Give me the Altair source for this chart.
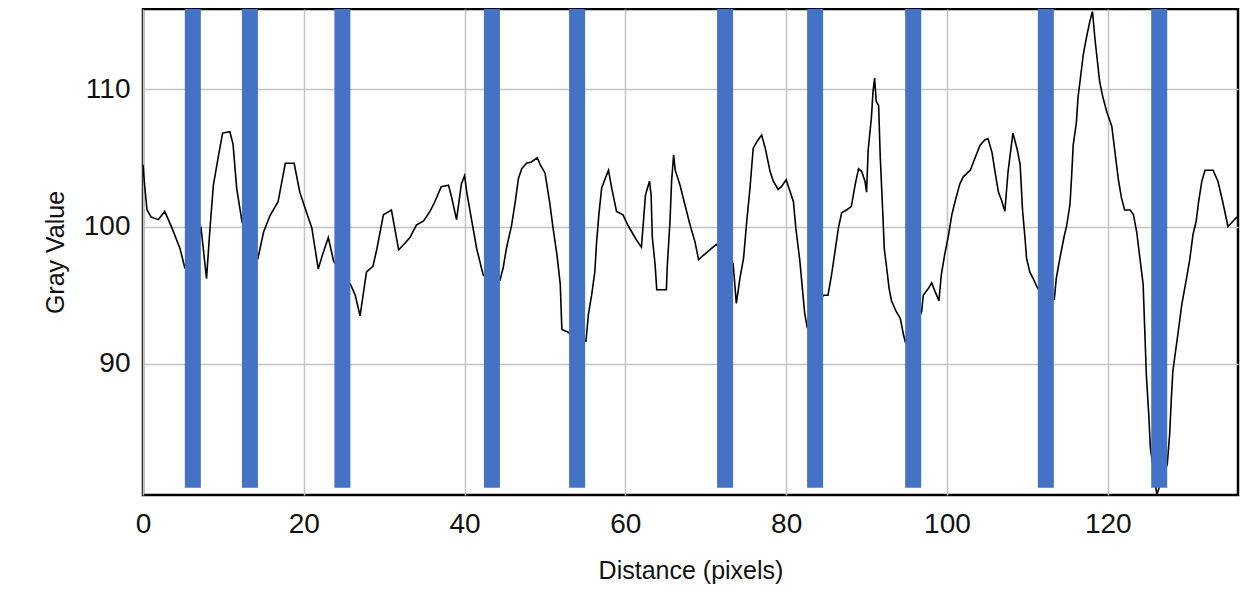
import altair as alt
import pandas as pd

# Profile line (distance in pixels, gray value)
dist = [0.0, 0.2, 0.5, 1.0, 1.9, 2.7, 3.6, 4.6, 5.2, 6.2, 7.2, 7.9, 8.3, 8.75, 9.4, 9.9,
        10.8, 11.2, 11.65, 12.3, 13.3, 14.3, 15.0, 15.8, 16.8, 17.7, 18.8, 19.5, 20.3, 21.0,
        21.8, 22.3, 23.05, 23.7, 24.8, 25.8, 26.4, 27.0, 27.8, 28.6, 29.1, 29.9, 30.9, 31.8,
        32.6, 33.2, 34.0, 34.9, 35.7, 36.3, 37.1, 38.0, 38.4, 39.0, 39.6, 40.0, 40.3, 40.9,
        41.5, 42.3, 43.4, 44.4, 44.8, 45.2, 45.85, 46.3, 46.7, 47.1, 47.7, 48.3, 49.05, 49.4,
        50.0, 50.6, 51.0, 51.5, 51.9, 52.1, 52.9, 54.0, 55.1, 55.4, 55.8, 56.2, 56.4, 56.7,
        57.05, 57.9, 58.3, 58.9, 59.7, 60.4, 61.4, 62.0, 62.5, 63.0, 63.2, 63.35, 63.7, 63.9,
        65.1, 65.2, 65.55, 65.75, 66.0, 66.2, 66.8, 67.4, 68.05, 68.65, 69.1, 69.7, 70.5,
        71.3, 72.4, 73.4, 73.8, 74.25, 74.7, 75.1, 75.5, 75.9, 76.5, 76.95, 77.4, 78.0, 78.4,
        79.0, 79.4, 80.0, 80.4, 80.9, 81.2, 81.7, 82.05, 82.3, 82.6, 83.6, 84.6, 85.2, 85.65,
        86.1, 86.5, 86.9, 87.5, 88.1, 88.6, 89.0, 89.4, 89.8, 90.0, 90.2, 90.6, 90.8, 91.0,
        91.2, 91.5, 91.7, 92.0, 92.2, 92.5, 92.8, 93.1, 93.7, 94.2, 94.6, 94.8, 95.8, 96.85,
        97.05, 97.7, 98.1, 98.5, 99.0, 99.3, 99.7, 100.2, 100.6, 101.0, 101.6, 102.0, 102.9,
        103.5, 104.1, 104.7, 105.1, 105.6, 106.0, 106.4, 106.8, 107.2, 107.6, 108.2, 108.7,
        109.1, 109.4, 109.7, 109.9, 110.3, 110.7, 111.2, 112.3, 113.35, 113.6, 114.05, 114.55,
        114.9, 115.3, 115.5, 115.7, 116.1, 116.3, 116.6, 116.95, 117.4, 117.8, 118.1, 118.4,
        118.7, 119.0, 119.4, 119.9, 120.5, 120.9, 121.3, 121.7, 122.1, 122.8, 123.2, 123.6,
        124.0, 124.4, 124.6, 124.8, 125.1, 125.3, 126.1, 127.4, 127.7, 127.9, 128.1, 128.5,
        128.8, 129.2, 129.8, 130.2, 130.6, 131.0, 131.3, 131.7, 132.1, 133.1, 133.7, 134.3,
        134.95, 135.6, 136.1]
gray = [104.5, 103.0, 101.2, 100.7, 100.5, 101.1, 99.9, 98.4, 97.0, 96.5, 100.0, 96.2, 99.6,
        103.0, 105.2, 106.8, 106.9, 106.0, 102.8, 100.4, 98.5, 97.7, 99.6, 100.8, 101.8, 104.6,
        104.6, 102.5, 101.1, 99.9, 96.9, 97.9, 99.2, 97.5, 96.5, 95.8, 95.0, 93.5, 96.7, 97.1,
        98.4, 100.85, 101.2, 98.3, 98.8, 99.2, 100.1, 100.4, 101.1, 101.8, 102.9, 103.0, 102.1,
        100.5, 103.1, 103.7, 102.4, 100.4, 98.4, 96.5, 95.8, 96.1, 97.0, 98.4, 100.1, 101.8,
        103.5, 104.2, 104.6, 104.7, 105.0, 104.5, 103.9, 101.7, 99.9, 97.9, 95.8, 92.5, 92.3,
        91.9, 91.65, 93.6, 95.0, 96.7, 98.7, 100.85, 102.8, 104.1, 102.8, 101.1, 100.85, 100.0,
        99.0, 98.5, 102.3, 103.3, 102.3, 99.2, 97.2, 95.4, 95.4, 97.0, 100.4, 103.3, 105.2,
        104.1, 103.0, 101.6, 100.1, 98.9, 97.6, 97.9, 98.3, 98.7, 98.0, 97.3, 94.4, 96.25, 97.7,
        100.4, 102.8, 105.7, 106.3, 106.65, 105.7, 104.0, 103.3, 102.7, 102.9, 103.4, 102.7,
        101.8, 99.9, 97.5, 95.3, 93.7, 92.7, 93.5, 95.0, 95.0, 96.5, 98.3, 99.9, 101.0, 101.2,
        101.45, 103.1, 104.2, 104.0, 103.3, 102.5, 105.6, 107.9, 109.8, 110.8, 109.1, 108.8,
        105.1, 101.2, 98.4, 97.0, 95.5, 94.6, 93.8, 93.3, 92.1, 91.65, 92.5, 93.8, 95.0, 95.5,
        95.9, 95.3, 94.6, 96.5, 97.9, 99.4, 100.85, 101.8, 103.1, 103.6, 104.1, 105.0, 105.9,
        106.3, 106.4, 105.4, 103.9, 102.5, 101.9, 101.1, 104.0, 106.8, 105.7, 104.5, 101.2,
        99.2, 97.7, 96.7, 96.25, 95.6, 94.5, 94.7, 96.25, 97.7, 99.2, 100.1, 101.6, 103.6,
        105.9, 107.6, 109.4, 110.8, 112.5, 113.9, 115.0, 115.65, 113.7, 112.1, 110.5, 109.4,
        108.3, 107.3, 105.4, 103.5, 102.1, 101.2, 101.2, 100.85, 99.6, 97.7, 95.8, 92.5, 89.2,
        86.3, 83.9, 80.5, 82.7, 84.9, 87.4, 89.5, 91.2, 92.5, 94.3, 96.25, 97.6, 99.4, 100.4,
        101.8, 103.3, 104.1, 104.1, 103.3, 101.8, 100.0, 100.4, 100.7]

# Marker bar positions (distance, pixels)
markers = [6.2, 13.3, 24.8, 43.4, 54.0, 72.4, 83.6, 95.8, 112.3, 126.4]
marker_top = 115.83
marker_bottom = 80.98

x_ticks = [0, 20, 40, 60, 80, 100, 120]
y_ticks = [90, 100, 110]
x_domain = [0, 136.2]
y_domain = [80.46, 115.83]

line_df = pd.DataFrame({"dist": dist, "gray": gray})
bar_df = pd.DataFrame({"pos": markers})

FONT = "Liberation Sans"

x_enc = alt.X(
    "dist:Q",
    scale=alt.Scale(domain=x_domain, nice=False, zero=False),
    axis=alt.Axis(
        values=x_ticks, title="Distance (pixels)", ticks=False, domain=False,
        labelFontSize=28, labelPadding=15, labelColor="#111111", labelFont=FONT,
        titleFontSize=25, titleFont=FONT, titleFontWeight="normal", titleColor="#111111",
        titlePadding=20, gridColor="#c4c4c4", gridWidth=1.5, labelFlush=False,
    ),
)
y_enc = alt.Y(
    "gray:Q",
    scale=alt.Scale(domain=y_domain, nice=False, zero=False),
    axis=alt.Axis(
        values=y_ticks, title="Gray Value", ticks=False, domain=False,
        labelFontSize=28, labelPadding=13, labelColor="#111111", labelFont=FONT,
        titleFontSize=25, titleFont=FONT, titleFontWeight="normal", titleColor="#111111",
        titlePadding=15, gridColor="#c4c4c4", gridWidth=1.5, labelFlush=False,
    ),
)

line = alt.Chart(line_df).mark_line(color="black", strokeWidth=1.6, clip=True).encode(
    x=x_enc, y=y_enc
)

bars = alt.Chart(bar_df).mark_rule(color="#4472C4", strokeWidth=16, clip=True).encode(
    x=alt.X("pos:Q"),
    y=alt.datum(marker_top),
    y2=alt.datum(marker_bottom),
)

chart = (
    alt.layer(line, bars)
    .properties(
        width=1095,
        height=486,
        autosize=alt.AutoSizeParams(type="none"),
        padding={"left": 135, "top": 1, "right": 10, "bottom": 90},
        background="white",
    )
    .configure_view(stroke="black", strokeWidth=2.5)
)

chart.save("out.html", embed_options={"renderer": "svg", "actions": False})
